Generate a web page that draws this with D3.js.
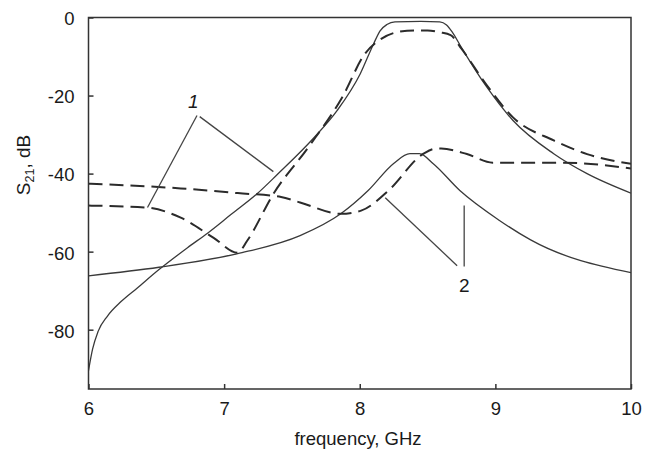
<!DOCTYPE html>
<html>
<head>
<meta charset="utf-8">
<script src="https://cdn.jsdelivr.net/npm/d3@7"></script>
<style>
body { margin: 0; background: #fff; }
svg text { font-family: "Liberation Sans", Arial, sans-serif; fill: #1a1a1a; }
</style>
</head>
<body>
<div id="chart"></div>
<script>
// frequency (GHz) / S21 (dB)
var solid1F = [6.0, 6.03, 6.07, 6.14, 6.24, 6.36, 6.52, 6.73, 6.88, 7.05, 7.245, 7.39, 7.657, 7.834, 8.004, 8.10, 8.15, 8.20, 8.26, 8.45, 8.59, 8.64, 8.68, 8.75, 8.94, 9.13, 9.43, 9.676, 10.0];
var solid1Db = [-90.5, -85, -80.5, -76.5, -72.8, -69.3, -64.6, -59, -55.2, -50.5, -45.1, -40.3, -31, -23.8, -14.4, -6.9, -3.4, -1.8, -1.1, -1, -1.1, -1.9, -3.6, -7.7, -18, -26.4, -34.9, -40, -45];

var dashed1F = [6.0, 6.43, 6.68, 6.92, 7.10, 7.17, 7.365, 7.62, 7.87, 8.04, 8.14, 8.27, 8.40, 8.50, 8.59, 8.67, 8.75, 8.94, 9.13, 9.43, 9.676, 10.0];
var dashed1Db = [-48.2, -48.7, -51.3, -56.4, -60.3, -57.2, -45.1, -33.3, -20.5, -9.2, -5.9, -3.8, -3.3, -3.3, -3.8, -4.5, -8, -17.5, -25.6, -31.5, -35, -37.5];

var solid2F = [6.0, 6.52, 7.10, 7.56, 7.86, 8.06, 8.25, 8.37, 8.44, 8.54, 8.74, 9.03, 9.26, 10.0];
var solid2Db = [-66.2, -64, -60.5, -55.9, -50.3, -44.4, -37.4, -34.9, -34.9, -37.4, -44.4, -52, -57, -65.4];

var dashed2F = [6.0, 6.68, 7.10, 7.42, 7.56, 7.86, 8.01, 8.21, 8.47, 8.56, 8.60, 8.79, 8.98, 9.5, 10.0];
var dashed2Db = [-42.6, -43.8, -45, -46, -47.4, -50.3, -49.5, -44.4, -34.9, -33.6, -33.6, -35, -37.2, -37.2, -38.7];

var xTicks = [6, 7, 8, 9, 10];
var yTicks = [0, -20, -40, -60, -80];

// curve labels and their leader lines, in data units
var labelNames = ['1', '2'];
var labelPos = [[6.773, -23.1], [8.77, -70.3]];
var labelItalic = [true, false];
var leaders = [
    [[6.80, -25.1], [6.435, -48.7]],
    [[6.82, -25.4], [7.363, -39.5]],
    [[8.188, -46.2], [8.718, -63.6]],
    [[8.77, -48.2], [8.77, -63.8]]
];

var margin = {top: 17.5, left: 88.5},
width = 631 - 88.5,
height = 389 - 17.5;

var x = d3.scaleLinear().domain([6, 10]).range([0, width]);
var y = d3.scaleLinear().domain([-95.2, 0]).range([height, 0]);

// plain hyphen for negatives, as in the original
var tickFmt = function(d){ return String(d); };

var svg = d3.select('#chart')
.append('svg')
.attr('width', 654)
.attr('height', 452)
.append('g')
.attr('transform', 'translate(' + margin.left + ',' + margin.top + ')');

var zip = function(fs, ds){ return fs.map(function(f, i){ return [f, ds[i]]; }); };

var line = d3.line()
.x(function(d){ return x(d[0]); })
.y(function(d){ return y(d[1]); })
.curve(d3.curveMonotoneX);

var series = [
    {data: zip(solid1F, solid1Db), dash: null},
    {data: zip(solid2F, solid2Db), dash: null},
    {data: zip(dashed1F, dashed1Db), dash: '14,7'},
    {data: zip(dashed2F, dashed2Db), dash: '14,7'}
];

svg.append('defs').append('clipPath').attr('id', 'clip')
.append('rect').attr('width', width).attr('height', height);

svg.append('g')
.attr('clip-path', 'url(#clip)')
.selectAll('path')
.data(series)
.enter().append('path')
.attr('d', function(d){ return line(d.data); })
.attr('fill', 'none')
.attr('stroke', function(d){ return d.dash ? '#2b2b2b' : '#3a3a3a'; })
.attr('stroke-width', function(d){ return d.dash ? 2 : 1.3; })
.attr('stroke-dasharray', function(d){ return d.dash; });

// frame
svg.append('rect')
.attr('width', width)
.attr('height', height)
.attr('fill', 'none')
.attr('stroke', '#333')
.attr('stroke-width', 1.5);

var xAxis = svg.append('g')
.attr('transform', 'translate(0,' + height + ')')
.call(d3.axisBottom(x).tickValues(xTicks).tickSize(-5).tickPadding(13).tickFormat(tickFmt));
xAxis.select('.domain').remove();
xAxis.selectAll('line').attr('stroke', '#333').attr('stroke-width', 1.5);
xAxis.selectAll('text')
.attr('font-size', '18.5px')
.attr('fill', '#1a1a1a')
.style('font-family', '"Liberation Sans", Arial, sans-serif');

var yAxis = svg.append('g')
.call(d3.axisLeft(y).tickValues(yTicks).tickSize(-5).tickPadding(14).tickFormat(tickFmt));
yAxis.select('.domain').remove();
yAxis.selectAll('line').attr('stroke', '#333').attr('stroke-width', 1.5);
yAxis.selectAll('text')
.attr('font-size', '18.5px')
.attr('fill', '#1a1a1a')
.attr('dy', '0.4em')
.style('font-family', '"Liberation Sans", Arial, sans-serif');

svg.append('text')
.attr('x', (358 - margin.left))
.attr('y', height + 56)
.attr('text-anchor', 'middle')
.attr('font-size', '18.5px')
.text('frequency, GHz');

var yLab = svg.append('text')
.attr('transform', 'translate(' + (30 - margin.left) + ',' + (165 - margin.top) + ') rotate(-90)')
.attr('text-anchor', 'middle')
.attr('font-size', '19px');
yLab.append('tspan').text('S');
yLab.append('tspan').attr('font-size', '12.5px').attr('dy', '4').text('21');
yLab.append('tspan').attr('dy', '-4').text(', dB');

svg.selectAll('.leader')
.data(leaders)
.enter().append('line')
.attr('class', 'leader')
.attr('x1', function(d){ return x(d[0][0]); })
.attr('y1', function(d){ return y(d[0][1]); })
.attr('x2', function(d){ return x(d[1][0]); })
.attr('y2', function(d){ return y(d[1][1]); })
.attr('stroke', '#444')
.attr('stroke-width', 1.3);

svg.selectAll('.curve-label')
.data(labelNames)
.enter().append('text')
.attr('class', 'curve-label')
.attr('x', function(d, i){ return x(labelPos[i][0]); })
.attr('y', function(d, i){ return y(labelPos[i][1]); })
.attr('text-anchor', 'middle')
.attr('font-size', '19px')
.attr('font-style', function(d, i){ return labelItalic[i] ? 'italic' : 'normal'; })
.text(function(d){ return d; });
</script>
</body>
</html>
